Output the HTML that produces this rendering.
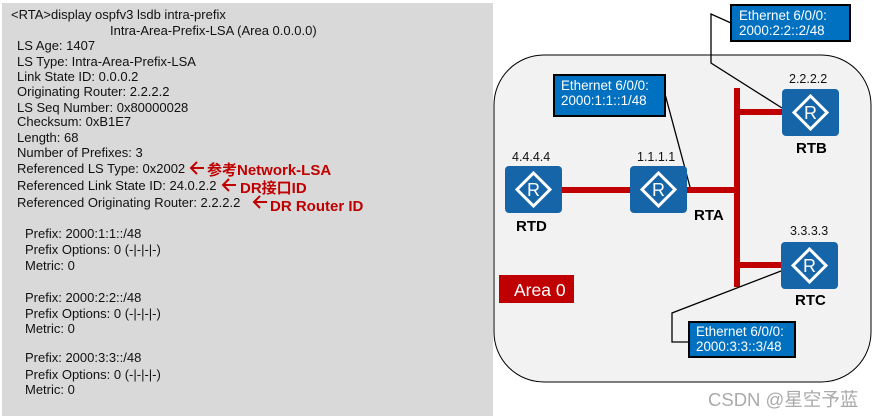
<!DOCTYPE html>
<html><head><meta charset="utf-8"><style>
html,body{margin:0;padding:0;background:#fff;width:874px;height:416px;overflow:hidden}
svg{display:block;font-family:"Liberation Sans","Noto Sans CJK SC",sans-serif}
</style></head><body>
<svg width="874" height="416" viewBox="0 0 874 416" xmlns="http://www.w3.org/2000/svg">
<rect x="2" y="3" width="491" height="413" fill="#d9d9d9"/>
<g font-size="13" fill="#111">
<text x="11" y="19">&lt;RTA&gt;display ospfv3 lsdb intra-prefix</text>
<text x="110" y="35">Intra-Area-Prefix-LSA (Area 0.0.0.0)</text>
<text x="17" y="50">LS Age: 1407</text>
<text x="17" y="66">LS Type: Intra-Area-Prefix-LSA</text>
<text x="17" y="81">Link State ID: 0.0.0.2</text>
<text x="17" y="96">Originating Router: 2.2.2.2</text>
<text x="17" y="112">LS Seq Number: 0x80000028</text>
<text x="17" y="126">Checksum: 0xB1E7</text>
<text x="17" y="142">Length: 68</text>
<text x="17" y="157">Number of Prefixes: 3</text>
<text x="17" y="173">Referenced LS Type: 0x2002</text>
<text x="17" y="190">Referenced Link State ID: 24.0.2.2</text>
<text x="17" y="207">Referenced Originating Router: 2.2.2.2</text>
<text x="25" y="238">Prefix: 2000:1:1::/48</text>
<text x="25" y="254">Prefix Options: 0 (-|-|-|-)</text>
<text x="25" y="270">Metric: 0</text>
<text x="25" y="302">Prefix: 2000:2:2::/48</text>
<text x="25" y="318">Prefix Options: 0 (-|-|-|-)</text>
<text x="25" y="333">Metric: 0</text>
<text x="25" y="362">Prefix: 2000:3:3::/48</text>
<text x="25" y="379">Prefix Options: 0 (-|-|-|-)</text>
<text x="25" y="394">Metric: 0</text>
</g>
<g stroke="#c00000" stroke-width="2" fill="none">
<path d="M191,168 H204 M197,162 L191,168 L197,174"/>
<path d="M223,185 H236 M229,179 L223,185 L229,191"/>
<path d="M254,202 H267 M260,196 L254,202 L260,208"/>
</g>
<g fill="#c00000" font-weight="bold" font-size="15">
<text x="207" y="175">参考Network-LSA</text>
<text x="240" y="193">DR接口ID</text>
<text x="270" y="211">DR Router ID</text>
</g>
<path d="M544,55 H821 A50,50 0 0 1 871,105 V332 A50,50 0 0 1 821,382 H544 A50,50 0 0 1 494,332 V105 A50,50 0 0 1 544,55 Z" fill="#f2f2f2" stroke="#000" stroke-width="1"/>
<g stroke="#c00000" stroke-width="6" fill="none">
<line x1="562" y1="190" x2="630" y2="190"/>
<line x1="687" y1="190" x2="737" y2="190"/>
<line x1="737" y1="88" x2="737" y2="287"/>
<line x1="737" y1="112" x2="782" y2="112"/>
<line x1="737" y1="265" x2="781" y2="265"/>
</g>
<g stroke="#000" stroke-width="1.3" fill="none">
<polyline points="731,23 711,14 711,63 782,108"/>
<polyline points="665,94 690,187"/>
<polyline points="781,271 672,313 672,342 688,342"/>
</g>
<defs><g id="r"><rect x="0" y="0" width="57" height="47" rx="4" fill="#1565a8"/><path d="M28.5,7 L45,23.5 L28.5,40 L12,23.5 Z" fill="none" stroke="#fff" stroke-width="3"/><text x="28.5" y="30" font-size="18" fill="#fff" text-anchor="middle">R</text></g></defs>
<use href="#r" x="505" y="166"/><use href="#r" x="630" y="166"/>
<use href="#r" x="782" y="89"/><use href="#r" x="781" y="242"/>
<g font-size="12.5" fill="#111">
<text x="512" y="161">4.4.4.4</text><text x="637" y="161">1.1.1.1</text>
<text x="789" y="83">2.2.2.2</text><text x="790" y="235">3.3.3.3</text>
</g>
<g font-size="15" font-weight="bold" fill="#000">
<text x="516" y="231">RTD</text><text x="694" y="220">RTA</text>
<text x="796" y="153">RTB</text><text x="795" y="305">RTC</text>
</g>
<rect x="499" y="275" width="75" height="28" fill="#c00000"/>
<text x="514" y="296" font-size="17.5" fill="#fff">Area 0</text>
<g fill="#0070c0" stroke="#000" stroke-width="2">
<rect x="731" y="5" width="119" height="36"/>
<rect x="554" y="75" width="111" height="41"/>
<rect x="689" y="322" width="106" height="35"/>
</g>
<g font-size="13.4" fill="#fff">
<text x="739" y="20">Ethernet 6/0/0:</text><text x="739" y="35">2000:2:2::2/48</text>
<text x="561" y="90">Ethernet 6/0/0:</text><text x="561" y="105">2000:1:1::1/48</text>
<text x="696" y="336">Ethernet 6/0/0:</text><text x="696" y="351">2000:3:3::3/48</text>
</g>
<text x="708" y="406" font-size="18.5" fill="#aaa">CSDN @星空予蓝</text>
</svg>
</body></html>
